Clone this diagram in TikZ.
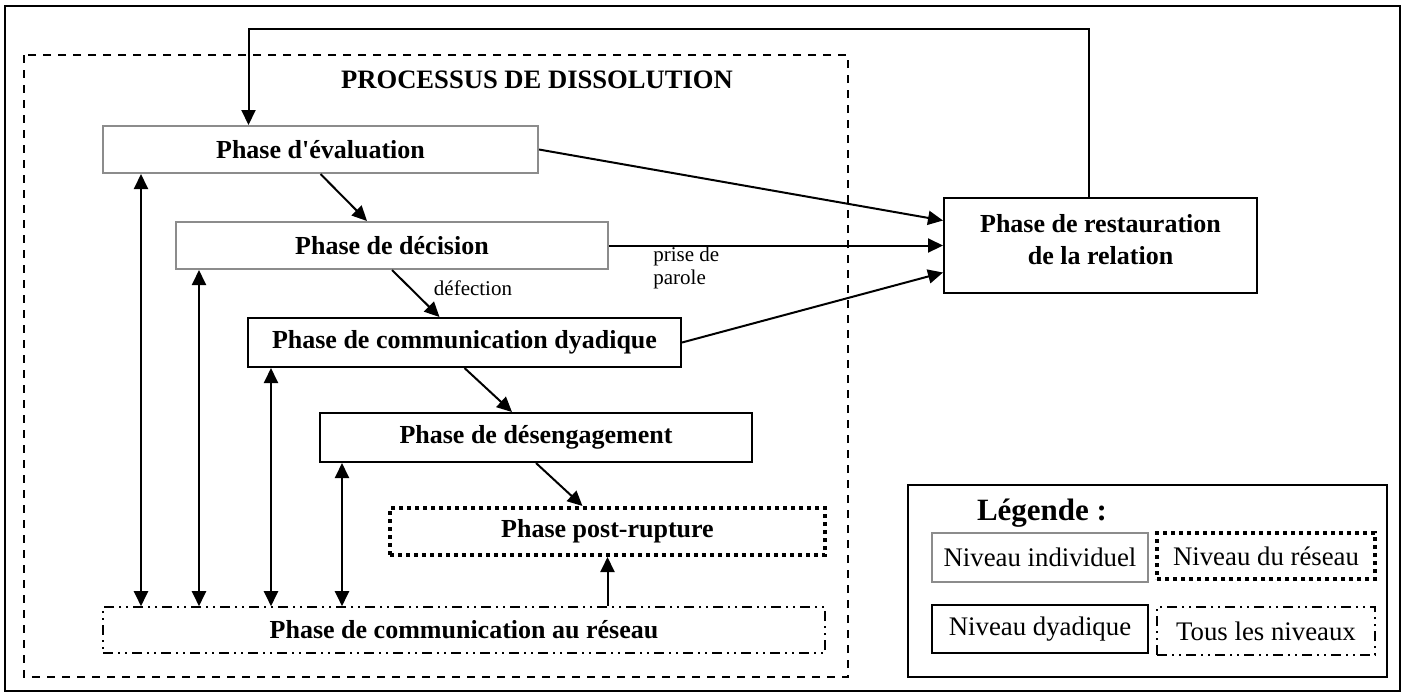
\documentclass[tikz,border=0pt]{standalone}
\usepackage{fontspec}
\setmainfont{Liberation Serif}
\usetikzlibrary{arrows.meta,calc}
\definecolor{indivgray}{RGB}{140,140,140}
\tikzset{
  wh/.style 2 args={minimum width=#1*0.5pt, minimum height=#2*0.5pt},
  phasefont/.style={font=\fontsize{13}{15.6}\selectfont\bfseries},
  legfont/.style={font=\fontsize{13.4}{16}\selectfont},
  lvlindiv/.style={draw=indivgray, line width=1pt, inner sep=0pt},
  lvldyad/.style={draw=black, line width=1pt, inner sep=0pt},
  lvlnet/.style={draw=black, line width=2pt, dash pattern=on 2pt off 2pt, inner sep=0pt},
  lvlall/.style={draw=black, line width=0.8pt, dash pattern=on 5pt off 2.5pt on 1pt off 2.5pt on 1pt off 2.5pt, inner sep=0pt},
  tip/.tip={Triangle[length=7.5pt,width=7pt]},
  flow/.style={-tip, line width=1pt},
  twoway/.style={tip-tip, line width=1pt},
  note/.style={font=\fontsize{10.5}{11.5}\selectfont, inner sep=0pt},
}
\begin{document}
\begin{tikzpicture}[x=0.5pt,y=-0.5pt]
\useasboundingbox (0,0) rectangle (1407,698);

% outer frame and dissolution frame
\draw[line width=1pt] (5,6) rectangle (1400,691);
\draw[line width=1pt, dash pattern=on 4pt off 3.5pt] (24,55) rectangle (848,677);
\node[font=\fontsize{13.3}{16}\selectfont\bfseries] (title) at (537,80) {PROCESSUS DE DISSOLUTION};

% phases
\node[lvlindiv, phasefont, wh={435}{47}] (eval) at (320.5,149.5) {Phase d\textquotesingle évaluation};
\node[lvlindiv, phasefont, wh={432}{47}] (dec) at (392,245.5) {Phase de décision};
\node[lvldyad, phasefont, wh={433}{49}] (dyad) at (464.5,342.5) {Phase de communication dyadique};
\node[lvldyad, phasefont, wh={432}{49}] (desen) at (536,437.5) {Phase de désengagement};
\node[lvlnet, phasefont, wh={435}{47}] (post) at (607.5,531.5) {Phase post-rupture};
\node[lvlall, phasefont, wh={722}{46}] (res) at (464,630) {Phase de communication au réseau};
\node[lvldyad, wh={313}{95}] (rest) at (1100.5,245.5) {};
\node[phasefont, align=center, inner sep=0pt] (resttext) at ($(rest.center)+(0,-6)$) {Phase de restauration\\de la relation};

% sequence of phases
\draw[flow] (eval.south) -- ($(dec.north)+(-25,0)$);
\draw[flow] (dec.south) -- ($(dyad.north)+(-25,0)$);
\draw[flow] (dyad.south) -- ($(desen.north)+(-24,0)$);
\draw[flow] (desen.south) -- ($(post.north)+(-25,0)$);
\draw[flow] (res.north -| post.south) -- (post.south);

\node[note] (defection) at (473,288) {défection};
\node[note, anchor=west, align=left] (parole) at (653,268) {prise de\\parole};

% exchanges with the network
\path ($(eval.south west)+(39,0)$) coordinate (v1)
      ($(dec.south west)+(24,0)$) coordinate (v2)
      ($(dyad.south west)+(24,0)$) coordinate (v3)
      ($(desen.south west)+(23,0)$) coordinate (v4);
\foreach \v in {v1,v2,v3,v4}
  \draw[twoway] (\v) -- (\v |- res.north);

% towards restoration
\draw[flow] (eval.east) -- ($(rest.west)+(0,-25)$);
\draw[flow] (dec.east) -- (rest.west);
\draw[flow] (dyad.east) -- ($(rest.west)+(0,27)$);

% feedback loop
\draw[flow] ($(rest.north)+(-12,0)$) -- ++(0,-168) -| ($(eval.north)+(-72,0)$);

% legend
\draw[line width=1pt] (908,485) rectangle (1387,677);
\node[font=\fontsize{15.5}{18}\selectfont\bfseries] (legtitle) at (1042,513) {Légende :};
\node[lvlindiv, legfont, wh={216}{49}] (lindiv) at (1040,557.5) {Niveau individuel};
\node[lvlnet, legfont, wh={218}{46}] (lnet) at (1266,556) {Niveau du réseau};
\node[lvldyad, legfont, wh={216}{48}] (ldyad) at (1040,629) {Niveau dyadique};
\node[lvlall, legfont, wh={218}{48}] (lall) at (1266,631) {Tous les niveaux};
\end{tikzpicture}
\end{document}
